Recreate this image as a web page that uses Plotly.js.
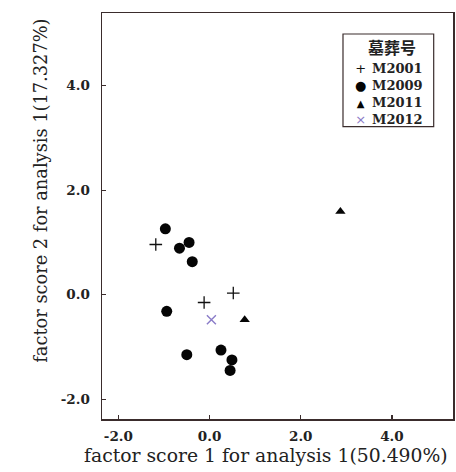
<!DOCTYPE html>
<html>
<head>
<meta charset="utf-8">
<script src="https://cdn.plot.ly/plotly-3.0.1.min.js"></script>
<style>html,body{margin:0;padding:0;background:#fff;}#chart{width:456px;height:472px;}</style>
</head>
<body>
<div id="chart"></div>
<script>
// Data
const legendTitle = "墓葬号";
const seriesNames = ["M2001", "M2009", "M2011", "M2012"];
const m2001X = [-1.18, 0.52, -0.12];
const m2001Y = [0.96, 0.03, -0.15];
const m2009X = [-0.97, -0.66, -0.45, -0.38, -0.94, 0.25, -0.50, 0.49, 0.45];
const m2009Y = [1.26, 0.89, 1.00, 0.63, -0.32, -1.06, -1.15, -1.25, -1.45];
const m2011X = [0.77, 2.87];
const m2011Y = [-0.48, 1.59];
const m2012X = [0.04];
const m2012Y = [-0.48];
const tickValues = [-2, 0, 2, 4];
const tickLabels = ["-2.0", "0.0", "2.0", "4.0"];
const xTitle = "factor score 1 for analysis 1(50.490%)";
const yTitle = "factor score 2 for analysis 1(17.327%)";

const ink = "#222";
const frame = "#3a2c2c";
const serif = "DejaVu Serif, serif";
const purple = "#8a7cc8";

const traces = [
  {x: m2001X, y: m2001Y, name: seriesNames[0], mode: "markers", type: "scatter",
   marker: {symbol: "cross-thin-open", size: 9, color: "#111", line: {width: 1.3, color: "#111"}}},
  {x: m2009X, y: m2009Y, name: seriesNames[1], mode: "markers", type: "scatter",
   marker: {symbol: "circle", size: 11, color: "#050505"}},
  {x: m2011X, y: m2011Y, name: seriesNames[2], mode: "markers", type: "scatter",
   marker: {symbol: "triangle-up", size: 9, color: "#050505"}},
  {x: m2012X, y: m2012Y, name: seriesNames[3], mode: "markers", type: "scatter",
   marker: {symbol: "x-thin-open", size: 9, color: purple, line: {width: 1.4, color: purple}}}
];

const axisCommon = {
  showgrid: false, zeroline: false, showline: true, mirror: true,
  linecolor: frame, linewidth: 1.5, ticks: "inside", ticklen: 4, tickwidth: 1.2, tickcolor: frame,
  tickvals: tickValues, ticktext: tickLabels,
  tickfont: {family: serif, size: 13.5, color: ink, weight: "bold"}
};

// Custom legend (box, title, glyph keys, labels) in paper coordinates
const keyGlyphs = ["+", "●", "▲", "×"];
const keyColors = ["#111", "#050505", "#050505", purple];
const keySizes = [13, 13, 10, 13];
const glyphText = keyGlyphs.map((g, i) =>
  "<span style='color:" + keyColors[i] + ";font-size:" + keySizes[i] + "px'>" + g + "</span>").join("<br>");
const labelText = seriesNames.join("<br>");

const annotations = [
  {text: xTitle, xref: "paper", yref: "paper", x: 0.467, y: -0.089, xanchor: "center", yanchor: "middle",
   showarrow: false, font: {family: serif, size: 18.8, color: ink}},
  {text: yTitle, xref: "paper", yref: "paper", x: -0.174, y: 0.562, xanchor: "center", yanchor: "middle",
   textangle: -90, showarrow: false, font: {family: serif, size: 17.8, color: ink}},
  {text: "<b>" + legendTitle + "</b>", xref: "paper", yref: "paper", x: 0.8276, y: 0.917,
   xanchor: "center", yanchor: "middle", showarrow: false,
   font: {family: "Noto Sans CJK SC, sans-serif", size: 16, color: ink}},
  {text: glyphText, xref: "paper", yref: "paper", x: 0.7365, y: 0.8835,
   xanchor: "center", yanchor: "top", align: "center", showarrow: false, borderpad: 0,
   font: {family: "DejaVu Sans, sans-serif", size: 13, color: ink}},
  {text: labelText, xref: "paper", yref: "paper", x: 0.765, y: 0.8835,
   xanchor: "left", yanchor: "top", align: "left", showarrow: false, borderpad: 0,
   font: {family: serif, size: 13, color: ink, weight: "bold"}}
];

const layout = {
  width: 456, height: 472,
  margin: {l: 102, r: 3, t: 13, b: 53},
  paper_bgcolor: "#fff", plot_bgcolor: "#fff",
  showlegend: false,
  xaxis: Object.assign({}, axisCommon, {range: [-2.36, 5.34], ticklabelstandoff: 4}),
  yaxis: Object.assign({}, axisCommon, {range: [-2.38, 5.39], ticklabelstandoff: 8}),
  shapes: [
    {type: "rect", xref: "paper", yref: "paper", x0: 0.6866, x1: 0.945, y0: 0.72, y1: 0.9483,
     line: {color: frame, width: 1.2}, fillcolor: "rgba(0,0,0,0)"}
  ],
  annotations: annotations
};

Plotly.newPlot("chart", traces, layout, {displayModeBar: false, staticPlot: true});
</script>
</body>
</html>
